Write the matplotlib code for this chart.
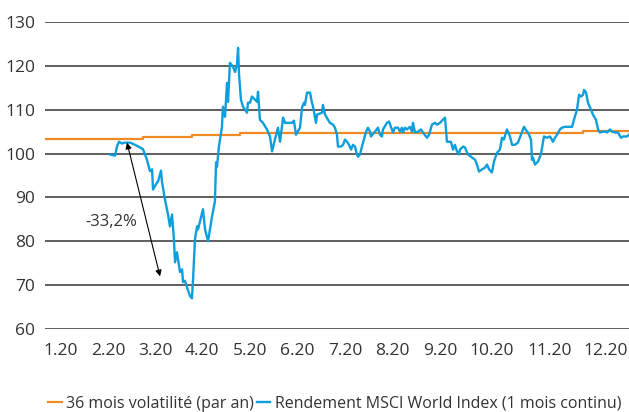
import matplotlib.pyplot as plt

# x is day position along 2020, y is the index level
msci_x = [40.7, 43.9, 45.1, 46.4, 48.3, 50.1, 53.3, 56.4, 59.5, 61.4, 63.9, 65.8, 67.1, 67.7,
          70.2, 70.8, 72.7, 73.3, 75.2, 77.1, 78.3, 79.6, 80.8, 81.5, 82.7, 84.6, 85.9, 86.5,
          87.7, 89.0, 90.9, 92.1, 92.8, 94.0, 95.3, 95.9, 99.0, 100.3, 102.2, 104.7, 106.5,
          107.2, 107.8, 109.0, 110.9, 111.5, 112.8, 114.1, 114.7, 115.9, 117.8, 119.1, 120.3,
          121.0, 121.6, 122.8, 124.1, 126.6, 127.2, 128.5, 129.7, 131.6, 132.9, 133.5, 134.7,
          136.6, 139.1, 141.0, 142.3, 144.1, 146.0, 147.3, 149.2, 150.4, 152.3, 154.8, 156.0,
          157.3, 159.8, 161.1, 162.3, 162.9, 164.2, 166.1, 167.3, 168.0, 169.8, 170.5, 173.6,
          174.2, 175.5, 177.4, 178.6, 180.5, 181.7, 183.0, 183.6, 185.5, 186.8, 188.0, 189.3,
          190.5, 191.8, 193.0, 194.3, 195.5, 196.2, 197.4, 199.3, 201.2, 202.4, 203.7, 204.3,
          206.8, 208.7, 209.9, 211.2, 211.8, 214.3, 215.6, 216.8, 218.1, 219.3, 221.2, 222.5,
          223.7, 224.4, 225.6, 226.9, 228.7, 230.0, 230.6, 231.9, 233.8, 235.6, 236.9, 239.4,
          240.7, 242.5, 244.4, 245.7, 247.5, 250.7, 251.9, 252.6, 254.4, 255.7, 256.9, 258.2,
          259.4, 260.1, 262.0, 263.2, 265.1, 267.6, 269.5, 270.7, 272.0, 273.9, 275.8, 277.0,
          278.3, 280.1, 281.4, 283.3, 285.1, 286.4, 287.6, 289.5, 291.4, 292.7, 294.5, 296.4,
          298.3, 300.2, 302.1, 302.7, 304.6, 305.2, 305.8, 307.1, 309.0, 310.8, 312.1, 312.7,
          314.6, 316.5, 318.4, 319.6, 320.9, 322.7, 324.0, 325.9, 330.3, 331.5, 333.4, 334.7,
          335.9, 337.2, 337.8, 339.1, 340.3, 342.2, 343.4, 345.3, 346.6, 347.8, 349.7, 351.6,
          352.2, 354.1, 355.3, 357.2, 359.1, 361.0, 362.2, 364.7, 366.0]
msci_y = [99.8, 99.5, 101.6, 102.7, 102.3, 102.5, 102.5, 102.0, 101.4, 101.0, 98.6, 96.0, 96.4, 91.8,
          93.4, 93.6, 96.1, 93.6, 89.5, 86.1, 83.4, 86.1, 80.5, 75.2, 77.5, 73.0, 73.6, 70.7,
          71.0, 69.5, 67.5, 67.0, 71.4, 80.5, 83.4, 82.7, 87.3, 82.7, 80.0, 85.7, 89.1,
          98.0, 97.0, 101.6, 106.1, 110.7, 108.4, 116.1, 111.8, 120.7, 119.8, 118.6, 120.2,
          124.1, 118.0, 112.3, 110.7, 109.3, 111.6, 111.6, 113.0, 112.3, 111.8, 114.1, 107.7,
          107.0, 105.5, 103.9, 100.5, 103.2, 105.9, 102.7, 108.2, 107.0, 107.0, 107.0, 107.5,
          104.3, 105.9, 110.5, 111.6, 111.1, 113.9, 113.9, 111.6, 110.7, 107.0, 108.9, 109.3,
          111.1, 108.9, 107.7, 107.0, 106.6, 105.9, 104.3, 101.6, 101.6, 102.0, 103.2, 102.7,
          102.0, 100.9, 102.0, 101.6, 99.8, 99.3, 99.8, 102.5, 105.0, 105.9, 105.0, 103.9,
          105.0, 105.9, 104.3, 103.9, 105.5, 107.0, 107.3, 106.1, 104.8, 105.9, 105.9, 105.0,
          105.9, 104.8, 105.9, 105.5, 106.1, 105.0, 107.0, 104.8, 105.0, 105.5, 104.8, 103.6,
          104.3, 106.6, 107.0, 106.6, 107.0, 108.2, 102.7, 102.7, 102.7, 100.9, 102.0, 100.5,
          99.8, 100.9, 101.6, 101.4, 99.8, 99.1, 98.6, 97.5, 95.9, 96.4, 96.8, 97.5,
          96.4, 95.7, 98.2, 100.2, 100.9, 103.6, 103.2, 105.5, 103.9, 102.0, 102.0, 102.5,
          104.3, 106.1, 105.0, 104.8, 103.2, 98.6, 99.1, 97.5, 98.2, 99.8, 102.7, 103.9,
          103.6, 103.9, 102.7, 103.6, 104.3, 105.5, 105.9, 106.1, 106.1, 107.7, 110.0, 113.4,
          113.0, 113.4, 114.5, 113.9, 111.6, 110.0, 108.9, 107.7, 105.5, 104.8, 105.0, 105.0,
          104.8, 105.5, 105.0, 104.8, 104.8, 103.6, 103.9, 103.9, 104.3]

vol_x = [0, 61.4, 92.1, 122.2, 337.2, 366]
vol_y = [103.4, 103.7, 104.3, 104.7, 105.1, 105.1]

month_labels = ['1.20', '2.20', '3.20', '4.20', '5.20', '6.20', '7.20', '8.20', '9.20',
                '10.20', '11.20', '12.20']
month_pos = [10.0, 39.5, 68.9, 98.4, 128.5, 157.9, 188.0, 217.5, 247.5, 280.1, 316.5, 351.6]

plt.rcParams['font.family'] = ['Open Sans', 'DejaVu Sans']

fig = plt.figure(figsize=(6.29, 4.12), dpi=100)
ax = fig.add_axes([45 / 629, 83 / 412, 584 / 629, 307 / 412])

ax.plot(vol_x, vol_y, color='#f08a24', lw=1.6, drawstyle='steps-post',
        label='36 mois volatilité (par an)', zorder=3)
ax.plot(msci_x, msci_y, color='#0d9edc', lw=1.7,
        label='Rendement MSCI World Index (1 mois continu)', zorder=4)

# drawdown arrow
ax.annotate('', xy=(51.4, 102.5), xytext=(72.1, 72.0),
            arrowprops=dict(arrowstyle='<|-|>', color='black', lw=0.8,
                            mutation_scale=9, shrinkA=0, shrinkB=0), zorder=5)
ax.text(41.4, 84.5, '-33,2%', ha='center', va='center', fontsize=12, color='#333333')

ax.set_xlim(0, 366)
ax.set_ylim(60, 130)
ax.set_yticks(range(60, 131, 10))
ax.set_xticks(month_pos)
ax.set_xticklabels(month_labels)
ax.yaxis.grid(True, color='#333333', lw=1.1)
ax.set_axisbelow(True)
for s in ax.spines.values():
    s.set_visible(False)
ax.tick_params(axis='both', length=0, labelsize=12.5, colors='#333333')
ax.tick_params(axis='y', pad=7)
ax.tick_params(axis='x', pad=10)

fig.legend(loc='center left', bbox_to_anchor=(48 / 629, 8 / 412), ncol=2, frameon=False,
           fontsize=11.5, handlelength=0.85, handletextpad=0.3, columnspacing=0.15,
           borderpad=0, borderaxespad=0, labelcolor='#333333')

fig.savefig('out.png', dpi=100)
